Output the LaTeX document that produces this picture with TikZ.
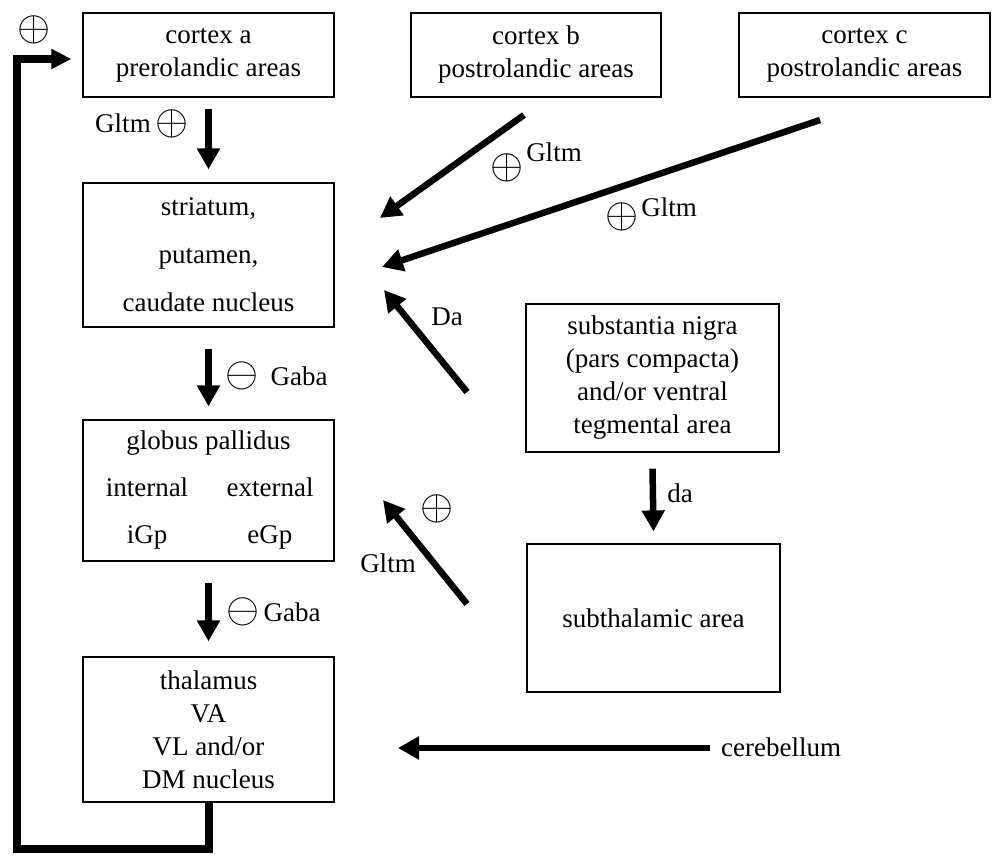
\RequirePackage{fix-cm}
\documentclass[tikz,border=0pt]{standalone}
\usepackage{fontspec}
\setmainfont{Liberation Serif}
\usetikzlibrary{arrows.meta}
\newcommand{\pos}{\scalebox{1.25}{$\oplus$}}
\newcommand{\nega}{\scalebox{1.25}{$\ominus$}}
\begin{document}
\begin{tikzpicture}[x=1pt,y=-1pt,
  box/.style={draw,line width=1.2pt,inner sep=0pt,align=center,
    font=\fontsize{27}{33}\selectfont},
  arr/.style={line width=6.5pt,-{Triangle[length=21pt,width=22pt]}},
  fb/.style={line width=8pt,-{Triangle[length=20pt,width=19pt]}},
  lbl/.style={inner sep=0pt,font=\fontsize{27}{32}\selectfont},
  sym/.style={inner sep=0pt,font=\fontsize{34}{34}\selectfont}]
\useasboundingbox (0,0) rectangle (996,856);

% boxes
\node[box,minimum width=251pt,minimum height=84pt] (ca) at (208.5,55)
  {cortex a\\prerolandic areas};
\node[box,minimum width=250pt,minimum height=84pt] (cb) at (536,55)
  {cortex b\\postrolandic areas};
\node[box,minimum width=251pt,minimum height=84pt] (cc) at (864.5,55)
  {cortex c\\postrolandic areas};
\node[box,minimum width=251pt,minimum height=144pt] (st) at (208.5,255)
  {striatum,\\[15pt]putamen,\\[15pt]caudate nucleus};
\node[box,minimum width=251pt,minimum height=141pt] (gp) at (208.5,490.5)
  {globus pallidus\\[14pt]\makebox[123pt]{internal}\makebox[123pt]{external}\\[14pt]\makebox[123pt]{iGp}\makebox[123pt]{eGp}};
\node[box,minimum width=251pt,minimum height=145pt] (th) at (208.5,729.5)
  {thalamus\\VA\\VL and/or\\DM nucleus};
\node[box,minimum width=253pt,minimum height=148pt] (sn) at (652.5,378)
  {substantia nigra\\(pars compacta)\\and/or ventral\\tegmental area};
\node[box,minimum width=253pt,minimum height=148pt] (sub) at (653.5,618)
  {subthalamic area};
\node[lbl,anchor=west] (ce) at (721,747) {cerebellum};

% free ends of the slanted and horizontal connectors
\coordinate (b0) at (524,115);
\coordinate (b1) at (380,218);
\coordinate (c0) at (820,120);
\coordinate (c1) at (382,267);
\coordinate (d0) at (467,392);
\coordinate (d1) at (384,290);
\coordinate (g0) at (467,604);
\coordinate (g1) at (383,500);
\coordinate (e0) at (710,748);
\coordinate (e1) at (398,748);

% connectors
\draw[arr] ([yshift=-11pt]ca.south) -- ([yshift=13pt]st.north);
\draw[arr] ([yshift=-21pt]st.south) -- ([yshift=13pt]gp.north);
\draw[arr] ([yshift=-21pt]gp.south) -- ([yshift=15pt]th.north);
\draw[arr] ([yshift=-16pt]sn.south) -- ([yshift=12pt]sub.north);
\draw[arr] (b0) -- (b1);
\draw[arr] (c0) -- (c1);
\draw[arr] (d0) -- (d1);
\draw[arr] (g0) -- (g1);
\draw[arr] (e0) -- (e1);
\draw[fb] (th.south) |- (17,849) |- ([xshift=-11pt,yshift=-4pt]ca.west);

% labels
\node[sym] (p0) at (34,30) {\pos};
\node[lbl] (t1) at (123,123) {Gltm};
\node[sym] (p1) at (172,124) {\pos};
\node[sym] (p2) at (507,168) {\pos};
\node[lbl] (t2) at (554,152) {Gltm};
\node[sym] (p3) at (622,217) {\pos};
\node[lbl] (t3) at (669,207) {Gltm};
\node[lbl] (t4) at (447,317) {Da};
\node[sym] (m1) at (242,376) {\nega};
\node[lbl] (t5) at (299,376) {Gaba};
\node[lbl] (t6) at (680,493) {da};
\node[sym] (p4) at (437,509) {\pos};
\node[lbl] (t7) at (388,563) {Gltm};
\node[sym] (m2) at (243,612) {\nega};
\node[lbl] (t8) at (292,612) {Gaba};
\end{tikzpicture}
\end{document}
